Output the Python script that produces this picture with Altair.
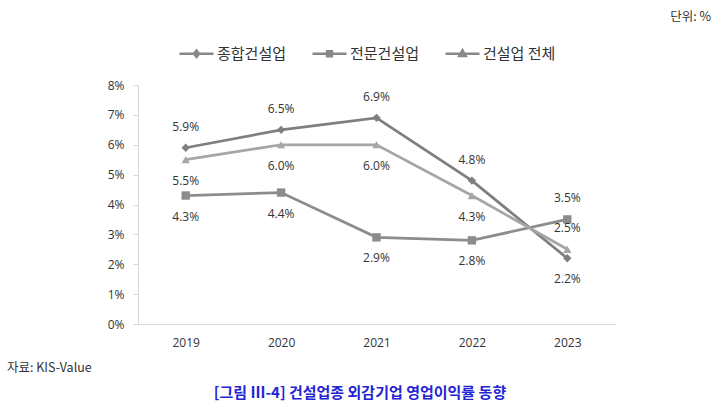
import altair as alt
import pandas as pd

# Operating profit margin of externally audited construction firms (%)
years = ["2019", "2020", "2021", "2022", "2023"]
series_names = ["종합건설업", "전문건설업", "건설업 전체"]
general = [5.9, 6.5, 6.9, 4.8, 2.2]
specialty = [4.3, 4.4, 2.9, 2.8, 3.5]
industry_total = [5.5, 6.0, 6.0, 4.3, 2.5]

# which side of the marker each value label sits on
general_side = ["above", "above", "above", "above", "below"]
specialty_side = ["below", "below", "below", "below", "above"]
total_side = ["below", "below", "below", "below", "above"]

y_ticks = [0, 1, 2, 3, 4, 5, 6, 7, 8]
unit_text = "단위:  %"
source_text = "자료:  KIS-Value"
caption_text = "[그림  Ⅲ-4]  건설업종  외감기업  영업이익률  동향"

colors = ["#7f7f7f", "#8c8c8c", "#a6a6a6"]
marker_shapes = ["diamond", "square", "triangle-up"]
# legend glyphs: a short stroke with the series marker in the middle
# (extra inner strokes make the small outline read as a solid marker)
legend_shapes = [
    "M-1,0L1,0M0,-0.19L0.15,0L0,0.19L-0.15,0ZM0,-0.12L0,0.12",
    "M-1,0L1,0M-0.14,-0.14L0.14,-0.14L0.14,0.14L-0.14,0.14ZM0,-0.14L0,0.14",
    "M-1,0L1,0M0,-0.2L0.19,0.13L-0.19,0.13ZM0,-0.14L0,0.13M-0.1,0.06L0.1,0.06",
]

rows = []
for name, vals, sides in zip(series_names,
                             [general, specialty, industry_total],
                             [general_side, specialty_side, total_side]):
    for yr, v, s in zip(years, vals, sides):
        rows.append({"year": yr, "series": name, "value": v, "side": s,
                     "label": f"{v:.1f}%"})
df = pd.DataFrame(rows)

NUM_FONT = "Open Sans"
KR_FONT = "Noto Sans CJK KR"

x_enc = alt.X("year:O", scale=alt.Scale(type="point", padding=0.5),
              axis=alt.Axis(title=None, labelAngle=0, ticks=False,
                            domainColor="#d9d9d9", labelPadding=13,
                            labelFontSize=12, labelColor="#333333",
                            labelFont=NUM_FONT))
y_enc = alt.Y("value:Q", scale=alt.Scale(domain=[0, 8], nice=False),
              axis=alt.Axis(title=None, values=y_ticks, grid=False,
                            labelExpr="datum.value + '%'",
                            domainColor="#d9d9d9", tickColor="#d9d9d9",
                            tickSize=5, labelPadding=9, labelFontSize=12,
                            labelColor="#333333", labelFont=NUM_FONT))

color_scale = alt.Scale(domain=series_names, range=colors)

base = alt.Chart(df).encode(x=x_enc, y=y_enc)

lines = base.mark_line(strokeWidth=2.75).encode(
    color=alt.Color("series:N", scale=color_scale, legend=None))

points = base.mark_point(filled=True, size=70, opacity=1).encode(
    color=alt.Color("series:N", scale=color_scale, legend=None),
    shape=alt.Shape("series:N",
                    scale=alt.Scale(domain=series_names, range=marker_shapes),
                    legend=None),
)

legend_def = alt.Legend(
    title=None, orient="none", legendX=40, legendY=-50,
    direction="horizontal", symbolSize=1156, symbolStrokeWidth=2.5,
    labelFontSize=15, labelFont=KR_FONT, labelColor="#333333",
    columnPadding=20, labelOffset=2,
)
# invisible point layer (clipped away) that only supplies the legend
legend_layer = base.mark_point(filled=False, clip=True, size=1156,
                               strokeWidth=2.5, opacity=1).encode(
    y=alt.value(-300),
    color=alt.Color("series:N", scale=color_scale, legend=legend_def),
    shape=alt.Shape("series:N",
                    scale=alt.Scale(domain=series_names, range=legend_shapes),
                    legend=legend_def),
)

label_style = dict(font=NUM_FONT, fontSize=12, color="#333333",
                   baseline="middle", align="center")
labels_above = base.transform_filter(alt.datum.side == "above").mark_text(
    dy=-21, **label_style).encode(text="label:N")
labels_below = base.transform_filter(alt.datum.side == "below").mark_text(
    dy=21, **label_style).encode(text="label:N")

unit = alt.Chart(pd.DataFrame({"t": [unit_text]})).mark_text(
    font=KR_FONT, fontSize=12.5, color="#333333", align="right",
    baseline="middle").encode(text="t:N", x=alt.value(573), y=alt.value(-68))
source = alt.Chart(pd.DataFrame({"t": [source_text]})).mark_text(
    font=KR_FONT, fontSize=12.5, color="#333333", align="left",
    baseline="middle").encode(text="t:N", x=alt.value(-131), y=alt.value(283))
caption = alt.Chart(pd.DataFrame({"t": [caption_text]})).mark_text(
    font=KR_FONT, fontSize=15, fontWeight="bold", color="#2424d4",
    align="center", baseline="middle").encode(text="t:N", x=alt.value(222),
                                              y=alt.value(308))

chart = alt.layer(
    lines, points, legend_layer, labels_above, labels_below,
    unit, source, caption,
).resolve_scale(shape="independent").properties(
    width=477, height=239,
    padding={"left": 138, "top": 85, "right": 104, "bottom": 85},
    autosize=alt.AutoSizeParams(type="none"),
    background="white",
).configure_view(stroke=None)

chart.save("out.html", embed_options={"renderer": "svg", "actions": False})
